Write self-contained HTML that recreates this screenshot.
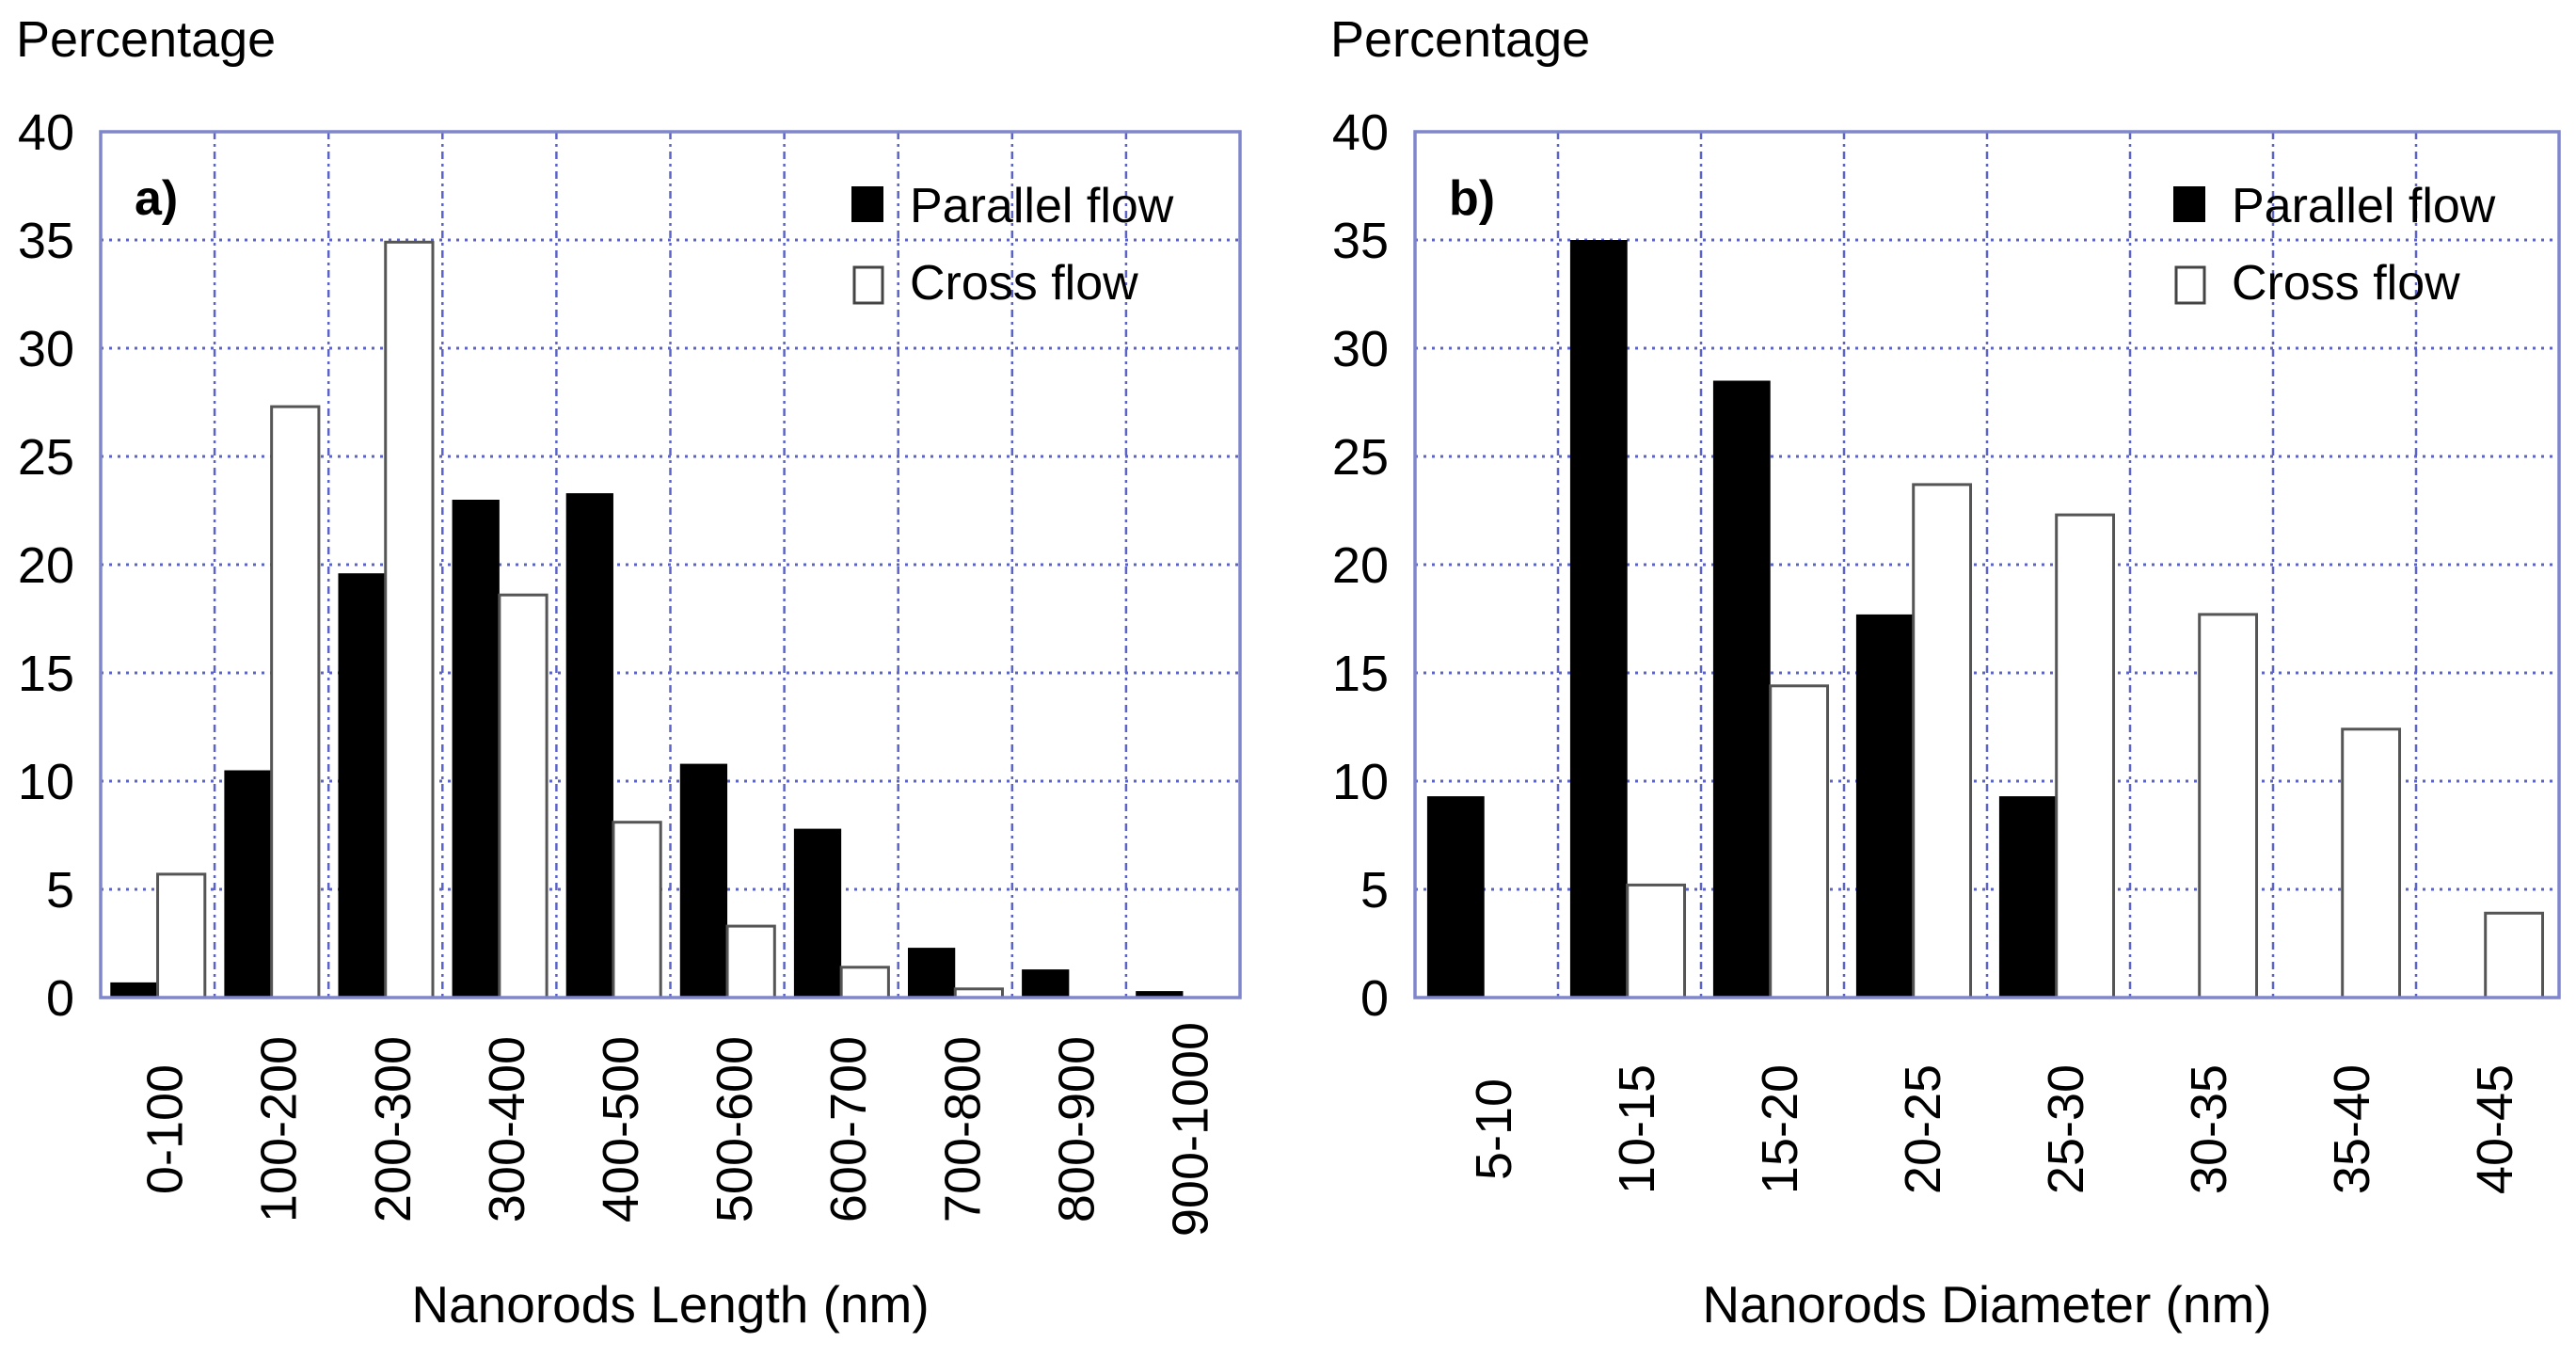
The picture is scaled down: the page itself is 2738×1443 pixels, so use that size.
<!DOCTYPE html>
<html><head><meta charset="utf-8">
<style>
html,body{margin:0;padding:0;background:#fff;}
svg{display:block;font-family:"Liberation Sans",sans-serif;}
</style></head>
<body>
<svg id="fig" width="2738" height="1443" viewBox="0 0 2738 1443"></svg>
<script>
const yTicks = [0,5,10,15,20,25,30,35,40];
const catsA = ["0-100","100-200","200-300","300-400","400-500","500-600","600-700","700-800","800-900","900-1000"];
const parallelA = [0.7,10.5,19.6,23.0,23.3,10.8,7.8,2.3,1.3,0.3];
const crossA = [5.7,27.3,34.9,18.6,8.1,3.3,1.4,0.4,0,0];
const catsB = ["5-10","10-15","15-20","20-25","25-30","30-35","35-40","40-45"];
const parallelB = [9.3,35.0,28.5,17.7,9.3,0,0,0];
const crossB = [0,5.2,14.4,23.7,22.3,17.7,12.4,3.9];

const NS="http://www.w3.org/2000/svg";
const svg=document.getElementById('fig');
function mk(tag,attrs,parent){const e=document.createElementNS(NS,tag);for(const k in attrs)e.setAttribute(k,attrs[k]);(parent||svg).appendChild(e);return e;}

function panel(cfg){
  const g=mk('g',{});
  
  
  const L=cfg.left,R=cfg.right,T=140,B=1060,ymax=40;
  const y=v=>B-(v/ymax)*(B-T);
  const n=cfg.cats.length, cw=(R-L)/n;
  const x=i=>L+i*cw;
  // horizontal grid
  yTicks.forEach(t=>{
    if(t>0&&t<40){
      const l=mk('line',{x1:L,x2:R,y1:y(t),y2:y(t),stroke:'#5b63c9','stroke-width':3,'stroke-dasharray':'3 6'},g);
      
      
    }
    const tx=mk('text',{x:L-28,y:y(t)+19,'font-size':54,'text-anchor':'end',fill:'#000'},g);
    tx.textContent=t;
    
    
  });
  for(let i=1;i<n;i++){
    const l=mk('line',{x1:x(i),x2:x(i),y1:T,y2:B,stroke:'#5b63c9','stroke-width':2.5,'stroke-dasharray':'8 5 3 5'},g);
    
    
  }
  // bars
  cfg.cats.forEach((c,i)=>{
    const bx=x(i)+cw*cfg.off, bw=cw*cfg.bw;
    if(cfg.par[i]>0){
      const r=mk('rect',{x:bx,y:y(cfg.par[i]),width:bw,height:B-y(cfg.par[i]),fill:'#000'},g);
      
      
    }
    if(cfg.cro[i]>0){
      const r=mk('rect',{x:bx+bw,y:y(cfg.cro[i]),width:bw,height:B-y(cfg.cro[i]),fill:'#fff',stroke:'#555','stroke-width':3},g);
      
      
    }
    const cx=x(i)+cw/2+8, cy=1200;
    const t=mk('text',{x:cx,y:cy,'font-size':54,'text-anchor':'middle','dominant-baseline':'central',transform:`rotate(-90 ${cx} ${cy})`},g);
    t.textContent=c;
    
    
  });
  const fr=mk('rect',{x:L,y:T,width:R-L,height:B-T,fill:'none',stroke:'#7f86cc','stroke-width':3.5},g);
  
  
  const yt=mk('text',{x:cfg.ylx,y:60,'font-size':54},g);
  yt.textContent='Percentage';
  
  
  const xt=mk('text',{x:(L+R)/2,y:1405,'font-size':55,'text-anchor':'middle'},g);
  xt.textContent=cfg.xtitle;
  
  
  const pl=mk('text',{x:L+36,y:228,'font-size':52,'font-weight':'bold'},g);
  pl.textContent=cfg.label;
  
  
  // legend
  const lx=cfg.legx;
  const s1=mk('rect',{x:lx,y:198,width:34,height:38,fill:'#000'},g);
  
  
  const t1=mk('text',{x:lx+62,y:236,'font-size':52},g);
  t1.textContent='Parallel flow';
  
  
  const s2=mk('rect',{x:lx+3,y:284,width:30,height:38,fill:'#fff',stroke:'#444','stroke-width':3},g);
  
  
  const t2=mk('text',{x:lx+62,y:318,'font-size':52},g);
  t2.textContent='Cross flow';
  
  
}
panel({name:'panel-a-length',left:107,right:1318,cats:catsA,par:parallelA,cro:crossA,off:0.085,bw:0.415,ylx:17,xtitle:'Nanorods Length (nm)',label:'a)',legx:905});
panel({name:'panel-b-diameter',left:1504,right:2720,cats:catsB,par:parallelB,cro:crossB,off:0.085,bw:0.40,ylx:1414,xtitle:'Nanorods Diameter (nm)',label:'b)',legx:2310});
</script>
</body></html>
